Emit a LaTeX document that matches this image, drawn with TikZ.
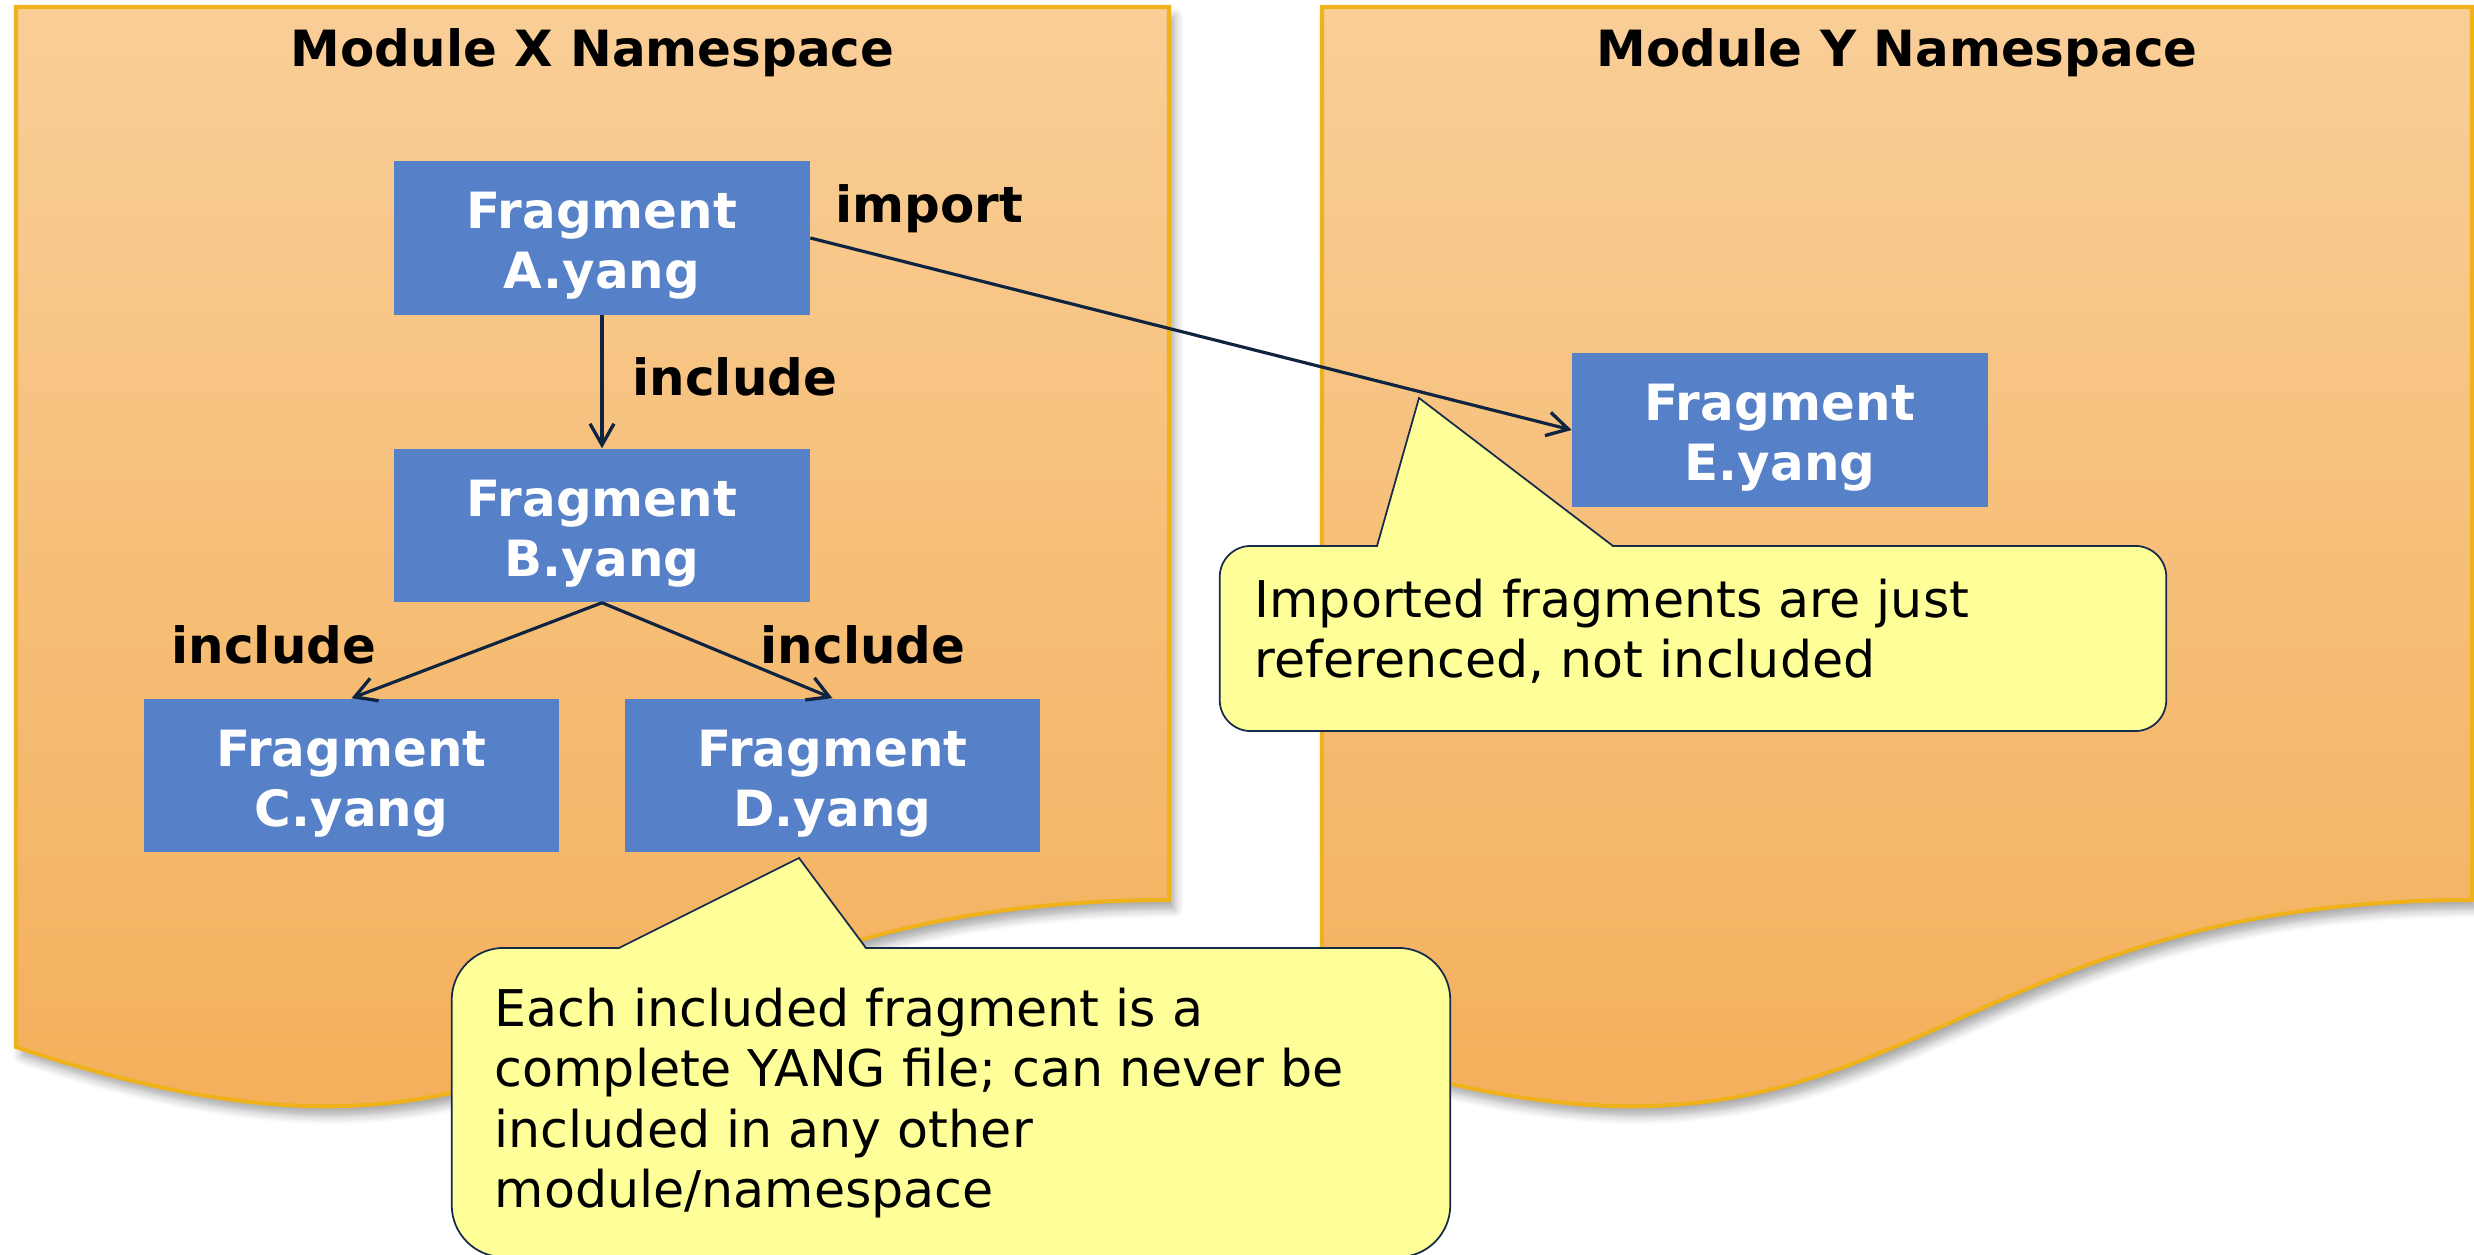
\documentclass[tikz,border=0pt]{standalone}
\usepackage{fontspec}
\setmainfont{DejaVu Sans}
\usetikzlibrary{arrows.meta,shadows,shadows.blur}
\definecolor{docTop}{RGB}{249,206,151}
\definecolor{docBot}{RGB}{243,172,84}
\definecolor{docLine}{RGB}{240,178,26}
\definecolor{fragBlue}{RGB}{86,128,200}
\definecolor{noteFill}{RGB}{255,255,153}
\definecolor{noteLine}{RGB}{22,44,74}
\definecolor{arrowCol}{RGB}{14,36,64}
\newcommand{\fragstrut}{\rule{0pt}{0.52cm}}
\tikzset{
  docshape/.style={draw=docLine, line width=1.15pt, top color=docTop, bottom color=docBot,
    blur shadow={shadow xshift=1.6pt, shadow yshift=-2.6pt, shadow blur steps=6, shadow blur radius=2.5pt, shadow opacity=35}},
  doctitle/.style={font=\bfseries\fontsize{14.2}{17}\selectfont, inner sep=0pt, anchor=base},
  frag/.style={rectangle, fill=fragBlue, minimum width=4.15cm, minimum height=1.53cm, inner sep=0pt,
    text=white, align=center, font=\bfseries\fontsize{14.2}{17.07}\selectfont},
  lbl/.style={font=\bfseries\fontsize{14.2}{17}\selectfont, inner sep=0pt, anchor=base west},
  conn/.style={draw=arrowCol, line width=0.9pt, -{Straight Barb[length=6pt,width=6.8pt,line width=0.95pt]}},
  notebox/.style={rectangle, fill=noteFill, draw=noteLine, line width=0.5pt},
  notetext/.style={font=\fontsize{14.4}{17.2}\selectfont, inner sep=0pt, anchor=west, align=left},
  pointerfill/.style={fill=noteFill},
  pointerline/.style={draw=noteLine, line width=0.5pt, line join=miter}
}
\begin{document}
\begin{tikzpicture}[x=0.01cm, y=-0.01cm]
\useasboundingbox (0,0) rectangle (2474,1255);

% namespace document shapes
\path[docshape] (16,7) -- (1169,7) -- (1169,900)
   .. controls (592.5,900) and (592.5,1240) .. (16,1047) -- cycle;
\path[docshape] (1322,7) -- (2472,7) -- (2472,900)
   .. controls (1897,900) and (1897,1240) .. (1322,1047) -- cycle;

\node[doctitle] (titleX) at (592.5,67) {Module X Namespace};
\node[doctitle] (titleY) at (1897,67) {Module Y Namespace};

% fragments
\node[frag] (A) at (602,238) {\fragstrut Fragment\\A.yang};
\node[frag] (B) at (602,525.5) {\fragstrut Fragment\\B.yang};
\node[frag] (C) at (351.5,775.5) {\fragstrut Fragment\\C.yang};
\node[frag] (D) at (832.5,775.5) {\fragstrut Fragment\\D.yang};
\node[frag] (E) at (1780,430) {\fragstrut Fragment\\E.yang};

% connectors
\draw[conn] (A.south) -- (B.north);
\draw[conn] (B.south) -- (C.north);
\draw[conn] (B.south) -- (D.north);
\draw[conn] (A.east) -- (E.west);

% labels
\node[lbl] (limport) at (835,223) {import};
\node[lbl] (linclAB) at (632,396) {include};
\node[lbl] (linclBC) at (171,664) {include};
\node[lbl] (linclBD) at (760,664) {include};

% callout 1
\node[notebox, minimum width=9.46cm, minimum height=1.85cm, rounded corners=0.31cm] (note1) at (1693,638.5) {};
\fill[pointerfill] (1378,549) -- (1378,546) -- (1419,398) -- (1612,546) -- (1612,549) -- cycle;
\draw[pointerline] (1377,546) -- (1419,398) -- (1613,546);
\node[notetext] (note1text) at (1254,631) {Imported fragments are just\\referenced, not included};

% callout 2
\node[notebox, minimum width=9.98cm, minimum height=3.09cm, rounded corners=0.52cm] (note2) at (951,1102.5) {};
\fill[pointerfill] (620,951) -- (620,948) -- (799,858) -- (865,948) -- (865,951) -- cycle;
\draw[pointerline] (619,948) -- (799,858) -- (866,948);
\node[notetext] (note2text) at (494,1103) {Each included fragment is a\\complete YANG file; can never be\\included in any other\\module/namespace};
\end{tikzpicture}
\end{document}
